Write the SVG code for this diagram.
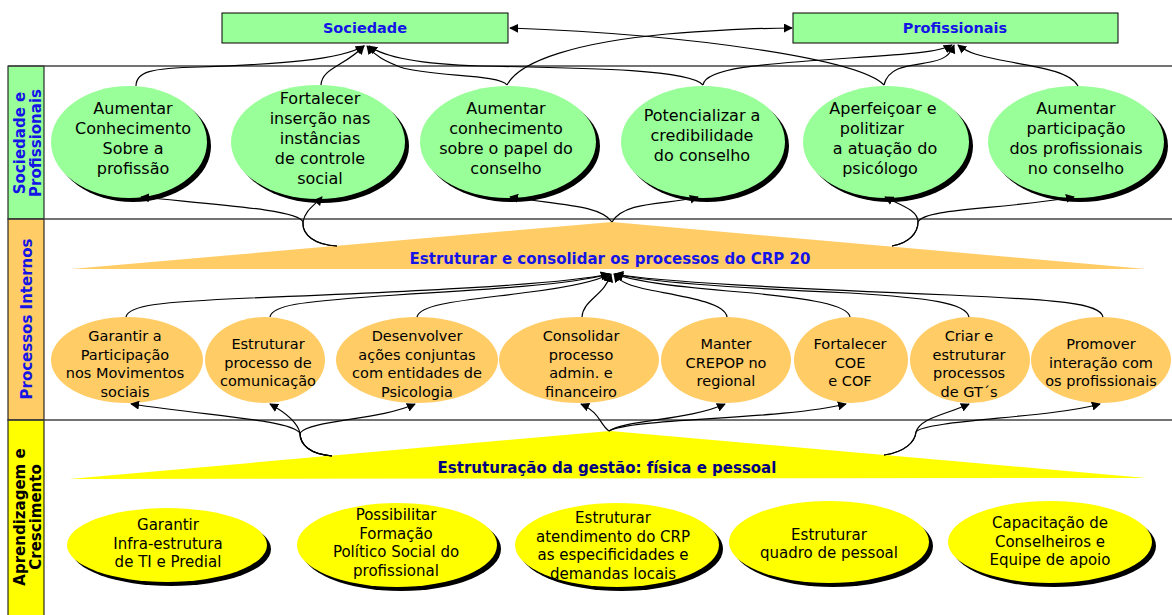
<svg xmlns="http://www.w3.org/2000/svg" width="1172" height="615" viewBox="0 0 1172 615">
<defs>
<marker id="arr" viewBox="0 0 10 10" refX="9" refY="5" markerWidth="9" markerHeight="9" markerUnits="userSpaceOnUse" orient="auto"><path d="M0,0 L10,5 L0,10 z" fill="#000"/></marker>
</defs>
<style>
.gf{fill:#99FF99}
.of{fill:#FFCC66}
.yf{fill:#FFFF00}
.sh{fill:#000}
.col{stroke:#000;stroke-width:1}
.sep{stroke:#444;stroke-width:1.5}
.t{font-family:"DejaVu Sans",Verdana,sans-serif;text-anchor:middle;fill:#000}
.t16{font-size:16px}
.t14{font-size:14.5px}
.t15{font-size:15px}
.b{font-family:"DejaVu Sans",Verdana,sans-serif;font-weight:bold;text-anchor:middle}
.blue{fill:#1414E6}
.navy{fill:#000080}
.c{fill:none;stroke:#000;stroke-width:1.2}
.ca{fill:none;stroke:#000;stroke-width:1.2;marker-end:url(#arr)}
</style>

<g id="bands">
<rect class="gf col" x="8" y="66" width="36" height="153"/>
<rect class="of col" x="8" y="219" width="36" height="201"/>
<rect class="yf col" x="8" y="420" width="36" height="200"/>
<line class="sep" x1="8" y1="66" x2="1172" y2="66"/>
<line class="sep" x1="8" y1="219" x2="1172" y2="219"/>
<line class="sep" x1="8" y1="420" x2="1172" y2="420"/>
<text class="b blue" font-size="15" transform="translate(25,143) rotate(-90)">Sociedade e</text>
<text class="b blue" font-size="15" transform="translate(41,143) rotate(-90)">Profissionais</text>
<text class="b blue" font-size="15" transform="translate(32,319) rotate(-90)">Processos Internos</text>
<text class="b" fill="#000" font-size="15" transform="translate(25,517) rotate(-90)">Aprendizagem e</text>
<text class="b" fill="#000" font-size="15" transform="translate(41,517) rotate(-90)">Crescimento</text>
</g>

<g id="n-sociedade">
<rect class="gf" x="222" y="13" width="286" height="30" stroke="#000" stroke-width="1"/>
<text class="b blue" font-size="14.5" x="365" y="33">Sociedade</text>
</g>
<g id="n-profissionais">
<rect class="gf" x="793" y="13" width="325" height="30" stroke="#000" stroke-width="1"/>
<text class="b blue" font-size="14.5" x="955" y="33">Profissionais</text>
</g>

<g id="n-e1">
<ellipse class="sh" cx="133" cy="146" rx="78" ry="56"/>
<ellipse class="gf" cx="129" cy="142" rx="78" ry="56"/>
<text class="t t16"><tspan x="133" y="114">Aumentar</tspan><tspan x="133" y="134">Conhecimento</tspan><tspan x="133" y="154">Sobre a</tspan><tspan x="133" y="174">profissão</tspan></text>
</g>
<g id="n-e2">
<ellipse class="sh" cx="322" cy="146" rx="87" ry="57"/>
<ellipse class="gf" cx="318" cy="142" rx="87" ry="57"/>
<text class="t t16"><tspan x="320" y="104">Fortalecer</tspan><tspan x="320" y="124">inserção nas</tspan><tspan x="320" y="144">instâncias</tspan><tspan x="320" y="164">de controle</tspan><tspan x="320" y="184">social</tspan></text>
</g>
<g id="n-e3">
<ellipse class="sh" cx="512" cy="146" rx="88" ry="56"/>
<ellipse class="gf" cx="508" cy="142" rx="88" ry="56"/>
<text class="t t16"><tspan x="506" y="114">Aumentar</tspan><tspan x="506" y="134">conhecimento</tspan><tspan x="506" y="154">sobre o papel do</tspan><tspan x="506" y="174">conselho</tspan></text>
</g>
<g id="n-e4">
<ellipse class="sh" cx="707" cy="146" rx="82" ry="56"/>
<ellipse class="gf" cx="703" cy="142" rx="82" ry="56"/>
<text class="t t16"><tspan x="702" y="121">Potencializar a</tspan><tspan x="702" y="141">credibilidade</tspan><tspan x="702" y="161">do conselho</tspan></text>
</g>
<g id="n-e5">
<ellipse class="sh" cx="890" cy="146" rx="83" ry="56"/>
<ellipse class="gf" cx="886" cy="142" rx="83" ry="56"/>
<text class="t t16"><tspan x="883" y="114">Aperfeiçoar e</tspan><tspan x="872" y="134">politizar</tspan><tspan x="885" y="154">a atuação do</tspan><tspan x="880" y="174">psicólogo</tspan></text>
</g>
<g id="n-e6">
<ellipse class="sh" cx="1080" cy="146" rx="88" ry="56"/>
<ellipse class="gf" cx="1076" cy="142" rx="88" ry="56"/>
<text class="t t16"><tspan x="1076" y="114">Aumentar</tspan><tspan x="1076" y="134">participação</tspan><tspan x="1076" y="154">dos profissionais</tspan><tspan x="1076" y="174">no conselho</tspan></text>
</g>

<g id="n-processos">
<polygon class="of" points="71,269 612,222 1146,269"/>
<text class="b blue" font-size="15" x="610" y="264">Estruturar e consolidar os processos do CRP 20</text>
</g>

<g id="n-o1"><ellipse class="of" cx="127" cy="360" rx="76" ry="43"/>
<text class="t t14"><tspan x="125" y="341">Garantir a</tspan><tspan x="125" y="359.5">Participação</tspan><tspan x="125" y="378">nos Movimentos</tspan><tspan x="125" y="396.5">sociais</tspan></text></g>
<g id="n-o2"><ellipse class="of" cx="265" cy="360" rx="60" ry="43"/>
<text class="t t14"><tspan x="268" y="349">Estruturar</tspan><tspan x="268" y="367.5">processo de</tspan><tspan x="268" y="386">comunicação</tspan></text></g>
<g id="n-o3"><ellipse class="of" cx="417" cy="360" rx="81" ry="43"/>
<text class="t t14"><tspan x="417" y="341">Desenvolver</tspan><tspan x="417" y="359.5">ações conjuntas</tspan><tspan x="417" y="378">com entidades de</tspan><tspan x="417" y="396.5">Psicologia</tspan></text></g>
<g id="n-o4"><ellipse class="of" cx="579" cy="360" rx="80" ry="43"/>
<text class="t t14"><tspan x="581" y="341">Consolidar</tspan><tspan x="581" y="359.5">processo</tspan><tspan x="581" y="378">admin. e</tspan><tspan x="581" y="396.5">financeiro</tspan></text></g>
<g id="n-o5"><ellipse class="of" cx="726" cy="360" rx="65" ry="43"/>
<text class="t t14"><tspan x="726" y="349">Manter</tspan><tspan x="726" y="367.5">CREPOP no</tspan><tspan x="726" y="386">regional</tspan></text></g>
<g id="n-o6"><ellipse class="of" cx="851" cy="360" rx="57" ry="43"/>
<text class="t t14"><tspan x="850" y="349">Fortalecer</tspan><tspan x="850" y="367.5">COE</tspan><tspan x="850" y="386">e COF</tspan></text></g>
<g id="n-o7"><ellipse class="of" cx="970" cy="360" rx="60" ry="43"/>
<text class="t t14"><tspan x="969" y="341">Criar e</tspan><tspan x="969" y="359.5">estruturar</tspan><tspan x="969" y="378">processos</tspan><tspan x="969" y="396.5">de GT´s</tspan></text></g>
<g id="n-o8"><ellipse class="of" cx="1101" cy="360" rx="70" ry="43"/>
<text class="t t14"><tspan x="1101" y="349">Promover</tspan><tspan x="1101" y="367.5">interação com</tspan><tspan x="1101" y="386">os profissionais</tspan></text></g>

<g id="n-gestao">
<polygon class="yf" points="69,479 610,431 1146,478"/>
<text class="b navy" font-size="15" x="607" y="473">Estruturação da gestão: física e pessoal</text>
</g>

<g id="n-y1"><ellipse class="sh" cx="171" cy="549" rx="100" ry="37"/><ellipse class="yf" cx="167" cy="545" rx="100" ry="37"/>
<text class="t t15"><tspan x="168" y="530">Garantir</tspan><tspan x="168" y="548.5">Infra-estrutura</tspan><tspan x="168" y="567">de TI e Predial</tspan></text></g>
<g id="n-y2"><ellipse class="sh" cx="401" cy="549" rx="100" ry="42"/><ellipse class="yf" cx="397" cy="545" rx="100" ry="42"/>
<text class="t t15"><tspan x="396" y="520">Possibilitar</tspan><tspan x="396" y="538.5">Formação</tspan><tspan x="396" y="557">Político Social do</tspan><tspan x="396" y="575.5">profissional</tspan></text></g>
<g id="n-y3"><ellipse class="sh" cx="621" cy="549" rx="102" ry="42"/><ellipse class="yf" cx="617" cy="545" rx="102" ry="42"/>
<text class="t t15"><tspan x="613" y="523">Estruturar</tspan><tspan x="613" y="541.5">atendimento do CRP</tspan><tspan x="613" y="560">as especificidades e</tspan><tspan x="613" y="578.5">demandas locais</tspan></text></g>
<g id="n-y4"><ellipse class="sh" cx="833" cy="546" rx="100" ry="41"/><ellipse class="yf" cx="829" cy="542" rx="100" ry="41"/>
<text class="t t15"><tspan x="829" y="540">Estruturar</tspan><tspan x="829" y="558">quadro de pessoal</tspan></text></g>
<g id="n-y5"><ellipse class="sh" cx="1054" cy="546" rx="102" ry="41"/><ellipse class="yf" cx="1050" cy="542" rx="102" ry="41"/>
<text class="t t15"><tspan x="1050" y="528">Capacitação de</tspan><tspan x="1050" y="546.5">Conselheiros e</tspan><tspan x="1050" y="565">Equipe de apoio</tspan></text></g>

<g id="connectors">
<path class="ca" d="M136,86 C136,72 150,68 200,67 C280,64 340,60 364,46"/>
<path class="ca" d="M321,85 C322,68 345,66 364,46"/>
<path class="ca" d="M507,85 C500,74 430,77 400,67 C385,61 375,56 367,46"/>
<path class="ca" d="M507,85 C520,60 580,42 667,34 C720,30 760,28 792,28"/>
<path class="ca" d="M884,85 C860,60 700,35 510,28"/>
<path class="ca" d="M703,85 C690,70 600,68 480,66 C420,64 385,58 369,46"/>
<path class="ca" d="M703,85 C705,68 760,64 850,58 C910,54 940,52 952,45"/>
<path class="ca" d="M884,85 C888,68 905,66 925,63 C945,60 950,55 954,45"/>
<path class="ca" d="M1078,86 C1070,70 1030,66 1000,60 C980,56 968,53 958,45"/>

<path class="ca" d="M337,246 C315,245 302,235 303,222 C300,210 220,205 141,197"/>
<path class="ca" d="M337,246 C315,245 302,235 303,222 C305,210 315,205 322,197"/>
<path class="ca" d="M612,222 C600,205 560,205 510,197"/>
<path class="ca" d="M612,222 C625,200 670,205 698,197"/>
<path class="ca" d="M892,246 C910,243 918,232 918,222 C918,210 900,205 885,197"/>
<path class="ca" d="M892,246 C910,243 918,232 918,222 C925,208 1000,210 1074,197"/>

<path class="ca" d="M126,317 C128,305 160,302 250,298 C400,292 560,285 609,274"/>
<path class="ca" d="M270,317 C272,305 300,302 380,296 C480,290 570,285 609,274"/>
<path class="ca" d="M417,317 C420,303 470,300 530,292 C570,287 595,282 610,274"/>
<path class="ca" d="M582,317 C583,300 605,295 611,274"/>
<path class="ca" d="M727,317 C725,302 680,296 650,290 C630,286 620,282 614,274"/>
<path class="ca" d="M850,317 C848,305 810,298 740,292 C680,287 635,282 615,274"/>
<path class="ca" d="M969,317 C966,303 930,298 850,293 C720,287 650,282 615,274"/>
<path class="ca" d="M1103,317 C1100,303 1060,300 950,295 C780,288 660,282 615,274"/>

<path class="ca" d="M332,456 C310,454 300,445 300,433 C290,420 220,417 131,404"/>
<path class="ca" d="M332,456 C310,454 300,445 300,433 C298,425 290,415 270,404"/>
<path class="ca" d="M332,456 C310,454 300,445 300,433 C310,420 380,420 415,404"/>
<path class="ca" d="M609,431 C600,425 600,412 581,404"/>
<path class="ca" d="M609,431 C625,420 690,420 725,404"/>
<path class="ca" d="M609,431 C630,418 780,420 846,404"/>
<path class="ca" d="M884,455 C905,452 915,442 916,432 C920,418 945,415 969,404"/>
<path class="ca" d="M884,455 C905,452 915,442 916,432 C925,420 1050,418 1100,404"/>
</g>
</svg>
